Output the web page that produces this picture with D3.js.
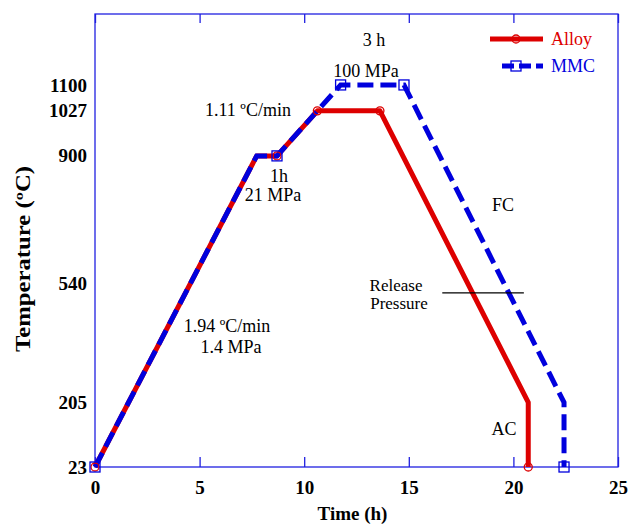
<!DOCTYPE html>
<html>
<head>
<meta charset="utf-8">
<script src="https://cdn.jsdelivr.net/npm/d3@7"></script>
<style>
  body { margin: 0; background: #fff; }
  text { font-family: "Liberation Serif", "DejaVu Serif", serif; }
</style>
</head>
<body>
<svg id="chart" width="635" height="526"></svg>
<script>
// heat treatment cycle, alloy vs MMC
var alloyTime = [0, 7.73, 8.7, 10.63, 13.62, 20.71, 20.71];
var alloyTemp = [23, 900, 900, 1027, 1027, 205, 23];
var mmcTime = [0, 7.73, 8.7, 11.74, 14.77, 22.42, 22.42];
var mmcTemp = [23, 900, 900, 1100, 1100, 205, 23];
var markIdx = [0, 2, 3, 4, 6];

var xTicks = [0, 5, 10, 15, 20, 25];
var yTicks = [23, 205, 540, 900, 1027, 1100];

// release pressure marker: time span and temperature
var releaseTime = [16.6, 20.5];
var releaseTemp = 514;

var svg = d3.select("#chart"),
    margin = {left: 95, top: 14, right: 17, bottom: 59},
    width = +svg.attr("width") - margin.left - margin.right,
    height = +svg.attr("height") - margin.top - margin.bottom,
    g = svg.append("g").attr("transform", "translate(" + margin.left + "," + margin.top + ")");

var blue = "#0000dd", red = "#dd0000", frame = "#2020e0";

var x = d3.scaleLinear().domain([0, 25]).range([0, width]);
var y = d3.scaleLinear().domain([23, 1300]).range([height, 0]);

// axes
var xAxis = g.append("g")
    .attr("transform", "translate(0," + height + ")")
    .call(d3.axisBottom(x).tickValues(xTicks).tickSizeInner(-10).tickSizeOuter(0).tickPadding(14));
xAxis.selectAll("text")
    .attr("font-size", "19px").attr("font-weight", "bold").attr("fill", "#000")
    .style("font-family", "'Liberation Serif', serif");

var xTop = g.append("g")
    .call(d3.axisTop(x).tickValues(xTicks).tickSizeInner(-9).tickSizeOuter(0).tickFormat(""));

var yAxis = g.append("g")
    .call(d3.axisLeft(y).tickValues(yTicks).tickFormat(d3.format("d")).tickSize(0).tickPadding(8));
yAxis.selectAll("text")
    .attr("font-size", "19px").attr("font-weight", "bold").attr("fill", "#000")
    .style("font-family", "'Liberation Serif', serif");

svg.selectAll(".domain").remove();
svg.selectAll(".tick line").attr("stroke", frame).attr("stroke-width", 1.3);

g.append("rect")
    .attr("width", width).attr("height", height)
    .attr("fill", "none").attr("stroke", frame).attr("stroke-width", 1.3);

// axis titles
svg.append("text")
    .attr("x", margin.left + width / 2 - 4).attr("y", 520)
    .attr("text-anchor", "middle")
    .attr("font-size", "19px").attr("font-weight", "bold")
    .text("Time (h)");

svg.append("text")
    .attr("transform", "translate(30,259) rotate(-90)")
    .attr("text-anchor", "middle")
    .attr("font-size", "20px").attr("font-weight", "bold")
    .attr("textLength", 186).attr("lengthAdjust", "spacingAndGlyphs")
    .text("Temperature (ºC)");

// lines
var line = d3.line()
    .x(function(d) { return x(d[0]); })
    .y(function(d) { return y(d[1]); });

var alloy = d3.zip(alloyTime, alloyTemp);
var mmc = d3.zip(mmcTime, mmcTemp);

g.append("path")
    .datum(alloy)
    .attr("d", line)
    .attr("fill", "none").attr("stroke", red).attr("stroke-width", 5)
    .attr("stroke-linejoin", "round");

g.append("path")
    .datum(mmc)
    .attr("d", line)
    .attr("fill", "none").attr("stroke", blue).attr("stroke-width", 5)
    .attr("stroke-dasharray", "16,7");

// markers
g.selectAll(".acirc")
    .data(markIdx.map(function(i) { return alloy[i]; }))
    .enter().append("circle")
    .attr("class", "acirc")
    .attr("cx", function(d) { return x(d[0]); })
    .attr("cy", function(d) { return y(d[1]); })
    .attr("r", 4)
    .attr("fill", "none").attr("stroke", red).attr("stroke-width", 1.3);

g.selectAll(".msq")
    .data(markIdx.map(function(i) { return mmc[i]; }))
    .enter().append("rect")
    .attr("class", "msq")
    .attr("x", function(d) { return x(d[0]) - 5; })
    .attr("y", function(d) { return y(d[1]) - 5; })
    .attr("width", 10).attr("height", 10)
    .attr("fill", "none").attr("stroke", blue).attr("stroke-width", 1.3);

// release pressure line
g.append("line")
    .attr("x1", x(releaseTime[0])).attr("x2", x(releaseTime[1]))
    .attr("y1", y(releaseTemp)).attr("y2", y(releaseTemp))
    .attr("stroke", "#000").attr("stroke-width", 1.3);

// annotations
var notes = [
  {t: "1.11 ºC/min", x: 248, y: 116, s: 18},
  {t: "1h", x: 279, y: 182, s: 18},
  {t: "21 MPa", x: 273, y: 201, s: 18},
  {t: "3 h", x: 374, y: 46, s: 18},
  {t: "100 MPa", x: 366, y: 77, s: 18},
  {t: "FC", x: 503, y: 211, s: 18},
  {t: "Release", x: 396, y: 291, s: 17},
  {t: "Pressure", x: 399, y: 309, s: 17},
  {t: "AC", x: 504, y: 435, s: 18},
  {t: "1.94 ºC/min", x: 227, y: 332, s: 18},
  {t: "1.4 MPa", x: 231, y: 353, s: 18}
];

svg.selectAll(".note")
    .data(notes)
    .enter().append("text")
    .attr("class", "note")
    .attr("x", function(d) { return d.x; })
    .attr("y", function(d) { return d.y; })
    .attr("text-anchor", "middle")
    .attr("font-size", function(d) { return d.s + "px"; })
    .text(function(d) { return d.t; });

// legend
var legend = svg.append("g");

legend.append("line")
    .attr("x1", 490).attr("x2", 543).attr("y1", 39).attr("y2", 39)
    .attr("stroke", red).attr("stroke-width", 5);
legend.append("circle")
    .attr("cx", 516).attr("cy", 39).attr("r", 4)
    .attr("fill", "none").attr("stroke", red).attr("stroke-width", 1.3);
legend.append("text")
    .attr("x", 551).attr("y", 45)
    .attr("font-size", "18px").attr("fill", red)
    .text("Alloy");

legend.append("line")
    .attr("x1", 502).attr("x2", 543).attr("y1", 66).attr("y2", 66)
    .attr("stroke", blue).attr("stroke-width", 5)
    .attr("stroke-dasharray", "12,5");
legend.append("rect")
    .attr("x", 511).attr("y", 61).attr("width", 10).attr("height", 10)
    .attr("fill", "none").attr("stroke", blue).attr("stroke-width", 1.3);
legend.append("text")
    .attr("x", 551).attr("y", 72)
    .attr("font-size", "18px").attr("fill", blue)
    .text("MMC");
</script>
</body>
</html>
